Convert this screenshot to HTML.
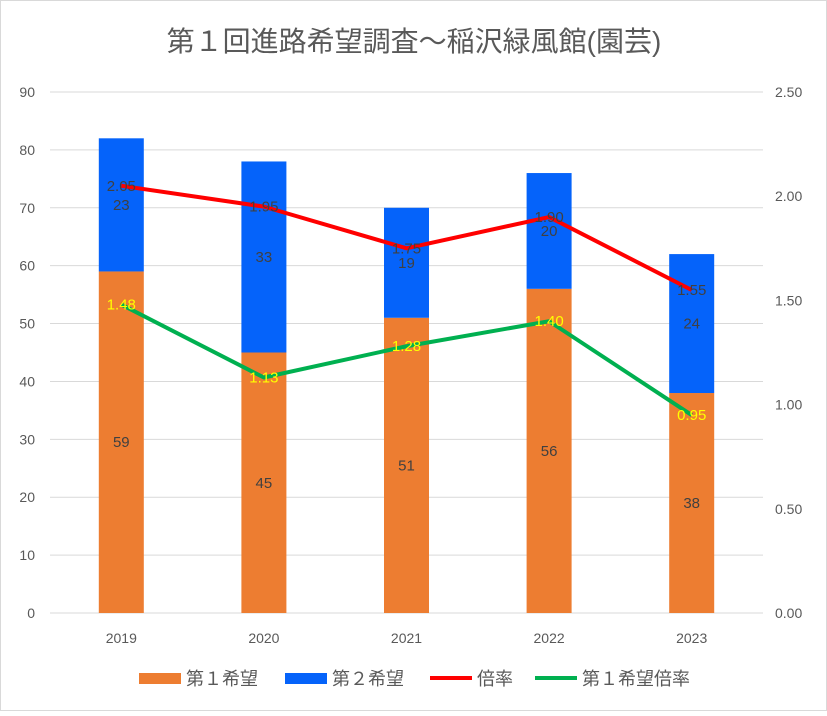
<!DOCTYPE html>
<html><head><meta charset="utf-8"><style>
body{margin:0;background:#fff;font-family:"Liberation Sans","Noto Sans CJK JP",sans-serif;}
svg text{font-family:"Liberation Sans","Noto Sans CJK JP",sans-serif;}
</style></head><body>
<svg id="c" width="827" height="711" xmlns="http://www.w3.org/2000/svg">
<rect x="0.5" y="0.5" width="826" height="710" fill="#fff" stroke="#d9d9d9"/>
<text x="414" y="51" text-anchor="middle" font-size="28" fill="#595959">第１回進路希望調査～稲沢緑風館(園芸)</text>
<g id="grid"></g><g id="bars"></g><g id="lines"></g><g id="labels"></g>
<g>
<rect x="139" y="673" width="42" height="11" fill="#ed7d31"/>
<text x="186" y="685" font-size="18" fill="#595959">第１希望</text>
<rect x="285" y="673" width="42" height="11" fill="#0563fa"/>
<text x="332" y="685" font-size="18" fill="#595959">第２希望</text>
<line x1="430" y1="678" x2="472" y2="678" stroke="#ff0000" stroke-width="4"/>
<text x="477" y="685" font-size="18" fill="#595959">倍率</text>
<line x1="535" y1="678" x2="577" y2="678" stroke="#00b050" stroke-width="4"/>
<text x="582" y="685" font-size="18" fill="#595959">第１希望倍率</text>
</g>
</svg>
<script>
const categories=["2019","2020","2021","2022","2023"];
const firstChoice=[59,45,51,56,38];
const secondChoice=[23,33,19,20,24];
const ratio=[2.05,1.95,1.75,1.90,1.55];
const firstRatio=[1.48,1.13,1.28,1.40,0.95];
const leftTicks=[0,10,20,30,40,50,60,70,80,90];
const rightTicks=["0.00","0.50","1.00","1.50","2.00","2.50"];
const NS="http://www.w3.org/2000/svg";
const x0=50,x1=763,yb=613,yt=92;
const yL=v=>yb-(v/90)*(yb-yt);
const yR=v=>yb-(v/2.5)*(yb-yt);
const step=(x1-x0)/categories.length;
const xC=i=>x0+step*(i+0.5);
function mk(tag,attrs,parent,txt){const e=document.createElementNS(NS,tag);for(const k in attrs)e.setAttribute(k,attrs[k]);if(txt!==undefined)e.textContent=txt;document.getElementById(parent).appendChild(e);return e;}
leftTicks.forEach(t=>{
 const l=mk('line',{x1:x0,x2:x1,y1:yL(t),y2:yL(t),stroke:'#d9d9d9'},'grid');
 
 
 const tx=mk('text',{x:35,y:yL(t)+5,'text-anchor':'end','font-size':14,fill:'#595959'},'grid',t);
 
 
});
rightTicks.forEach(t=>{
 const tx=mk('text',{x:775,y:yR(parseFloat(t))+5,'font-size':14,fill:'#595959'},'grid',t);
 
 
});
categories.forEach((c,i)=>{
 const tx=mk('text',{x:xC(i),y:643,'text-anchor':'middle','font-size':14,fill:'#595959'},'grid',c);
 
 
 const bw=45,bx=xC(i)-bw/2;
 const b1=mk('rect',{x:bx,y:yL(firstChoice[i]),width:bw,height:yb-yL(firstChoice[i]),fill:'#ed7d31'},'bars');
 
 
 const tot=firstChoice[i]+secondChoice[i];
 const b2=mk('rect',{x:bx,y:yL(tot),width:bw,height:yL(firstChoice[i])-yL(tot),fill:'#0563fa'},'bars');
 
 
 const l1=mk('text',{x:xC(i),y:(yb+yL(firstChoice[i]))/2+5,'text-anchor':'middle','font-size':15,fill:'#404040'},'labels',firstChoice[i]);
 
 
 const l2=mk('text',{x:xC(i),y:(yL(firstChoice[i])+yL(tot))/2+5,'text-anchor':'middle','font-size':15,fill:'#404040'},'labels',secondChoice[i]);
 
 
 const l3=mk('text',{x:xC(i),y:yR(ratio[i])+5,'text-anchor':'middle','font-size':15,fill:'#404040'},'labels',ratio[i].toFixed(2));
 
 
 const l4=mk('text',{x:xC(i),y:yR(firstRatio[i])+5,'text-anchor':'middle','font-size':15,fill:'#ffff00'},'labels',firstRatio[i].toFixed(2));
 
 
});
const p1=mk('polyline',{points:ratio.map((v,i)=>xC(i)+','+yR(v)).join(' '),fill:'none',stroke:'#ff0000','stroke-width':4,'stroke-linejoin':'round'},'lines');


const p2=mk('polyline',{points:firstRatio.map((v,i)=>xC(i)+','+yR(v)).join(' '),fill:'none',stroke:'#00b050','stroke-width':4,'stroke-linejoin':'round'},'lines');


</script>
</body></html>
